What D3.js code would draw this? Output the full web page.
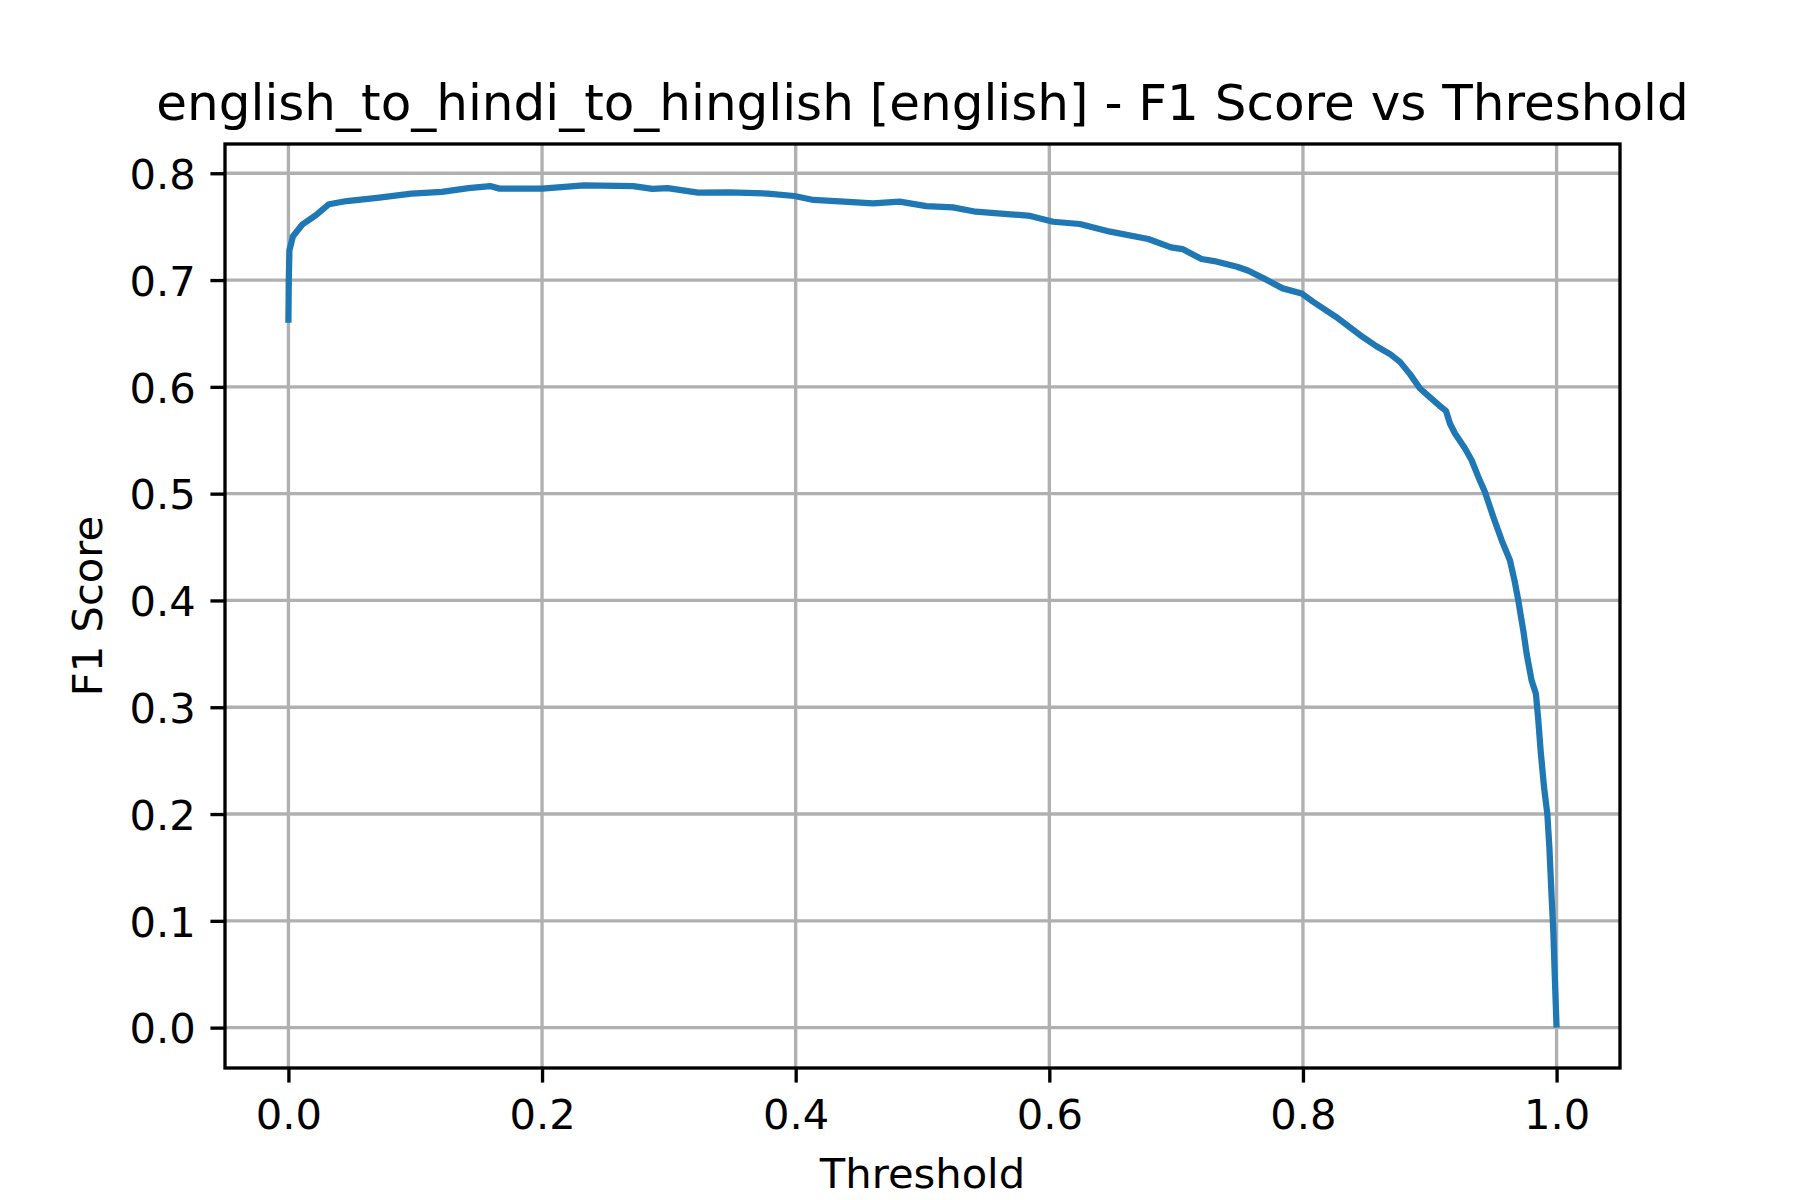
<!DOCTYPE html>
<html>
<head>
<meta charset="utf-8">
<script src="https://cdn.jsdelivr.net/npm/d3@7"></script>
<style>
  html, body { margin: 0; padding: 0; background: #ffffff; }
  svg { display: block; }
  text { font-family: "DejaVu Sans", sans-serif; fill: #000; }
</style>
</head>
<body>
<svg id="chart" width="1800" height="1200"></svg>
<script>
// ---- Data ----
const thresholds = [
  0.0, 0.0003, 0.0008, 0.0036, 0.011, 0.022, 0.032, 0.046, 0.070, 0.097,
  0.121, 0.142, 0.159, 0.1665, 0.200, 0.233, 0.272, 0.287, 0.299, 0.323,
  0.348, 0.378, 0.399, 0.414, 0.438, 0.461, 0.482, 0.503, 0.524, 0.542,
  0.5695, 0.585, 0.603, 0.624, 0.648, 0.678, 0.696, 0.705, 0.720, 0.730,
  0.748, 0.757, 0.769, 0.784, 0.799, 0.808, 0.826, 0.845, 0.858, 0.869,
  0.8765, 0.8844, 0.8923, 0.9002, 0.9081, 0.9128, 0.9159, 0.9199, 0.9278, 0.933,
  0.9383, 0.9435, 0.9501, 0.9567, 0.9632, 0.9668, 0.9698, 0.9737, 0.9764, 0.9803,
  0.9837, 0.9856, 0.9874, 0.9901, 0.9927, 0.9943, 0.9961, 0.9974, 0.9987, 1.0
];
const f1Scores = [
  0.660, 0.700, 0.728, 0.741, 0.752, 0.761, 0.771, 0.774, 0.777, 0.781,
  0.7825, 0.786, 0.788, 0.7856, 0.7856, 0.7887, 0.788, 0.7853, 0.786, 0.7818,
  0.782, 0.781, 0.7787, 0.775, 0.7734, 0.7719, 0.7734, 0.7693, 0.768, 0.764,
  0.7616, 0.760, 0.7546, 0.7525, 0.7453, 0.7384, 0.7306, 0.729, 0.7197, 0.7178,
  0.7125, 0.7087, 0.7016, 0.6922, 0.6875, 0.6797, 0.6656, 0.6485, 0.638, 0.6304,
  0.6234, 0.6119, 0.5985, 0.5901, 0.5819, 0.5775, 0.5657, 0.5563, 0.5423, 0.5313,
  0.5157, 0.5016, 0.4782, 0.4563, 0.4376, 0.4188, 0.400, 0.372, 0.350, 0.325,
  0.3126, 0.2876, 0.2595, 0.2251, 0.200, 0.1688, 0.1219, 0.0907, 0.0438, 0.0
];
const xTicks = [0.0, 0.2, 0.4, 0.6, 0.8, 1.0];
const yTicks = [0.0, 0.1, 0.2, 0.3, 0.4, 0.5, 0.6, 0.7, 0.8];
const titleText = "english_to_hindi_to_hinglish [english] - F1 Score vs Threshold";
const xLabelText = "Threshold";
const yLabelText = "F1 Score";

(function () {
  // ---- Layout ----
  const W = 1800, H = 1200;
  const axL = 225, axR = 1620, axT = 144, axB = 1068;
  const pt = 300 / 72;

  const svg = d3.select("#chart");
  svg.append("rect").attr("width", W).attr("height", H).attr("fill", "#fff");

  const x = d3.scaleLinear().domain([-0.05, 1.05]).range([axL, axR]);
  const y = d3.scaleLinear().domain([-0.0378, 0.8274]).range([axB, axT]);

  const data = thresholds.map((t, i) => ({ t, f: f1Scores[i] }));

  // grid
  const grid = svg.append("g");
  grid.selectAll("line.gx").data(xTicks).join("line").attr("class", "gx")
    .attr("x1", d => x(d)).attr("x2", d => x(d))
    .attr("y1", axT).attr("y2", axB)
    .attr("stroke", "#b0b0b0").attr("stroke-width", 0.8 * pt);
  grid.selectAll("line.gy").data(yTicks).join("line").attr("class", "gy")
    .attr("x1", axL).attr("x2", axR)
    .attr("y1", d => y(d)).attr("y2", d => y(d))
    .attr("stroke", "#b0b0b0").attr("stroke-width", 0.8 * pt);

  // clip
  svg.append("clipPath").attr("id", "clip").append("rect")
    .attr("x", axL).attr("y", axT).attr("width", axR - axL).attr("height", axB - axT);

  // line
  const line = d3.line().x(d => x(d.t)).y(d => y(d.f));
  svg.append("path")
    .datum(data)
    .attr("clip-path", "url(#clip)")
    .attr("d", line)
    .attr("fill", "none")
    .attr("stroke", "#1f77b4")
    .attr("stroke-width", 1.5 * pt)
    .attr("stroke-linejoin", "round")
    .attr("stroke-linecap", "butt");

  // axes
  const tickLen = 3.5 * pt, tickPad = 3.5 * pt;
  const fontTick = 10 * pt;

  const xAxis = d3.axisBottom(x).tickValues(xTicks).tickFormat(d3.format(".1f"))
    .tickSizeInner(tickLen).tickSizeOuter(0).tickPadding(tickPad);
  const gx = svg.append("g").attr("transform", `translate(0,${axB})`).call(xAxis);
  gx.select(".domain").remove();
  gx.selectAll(".tick line").attr("stroke", "#000").attr("stroke-width", 0.8 * pt);
  gx.selectAll(".tick text")
    .attr("font-family", "DejaVu Sans").attr("font-size", fontTick)
    .attr("fill", "#000").attr("dy", null).attr("y", tickLen + tickPad + 0.76 * fontTick);

  const yAxis = d3.axisLeft(y).tickValues(yTicks).tickFormat(d3.format(".1f"))
    .tickSizeInner(tickLen).tickSizeOuter(0).tickPadding(tickPad);
  const gy = svg.append("g").attr("transform", `translate(${axL},0)`).call(yAxis);
  gy.select(".domain").remove();
  gy.selectAll(".tick line").attr("stroke", "#000").attr("stroke-width", 0.8 * pt);
  gy.selectAll(".tick text")
    .attr("font-family", "DejaVu Sans").attr("font-size", fontTick)
    .attr("fill", "#000").attr("dy", null).attr("y", 0.365 * fontTick);

  // spines
  svg.append("rect")
    .attr("x", axL).attr("y", axT).attr("width", axR - axL).attr("height", axB - axT)
    .attr("fill", "none").attr("stroke", "#000").attr("stroke-width", 0.8 * pt)
    .attr("stroke-linejoin", "miter");

  // title
  svg.append("text")
    .attr("x", (axL + axR) / 2).attr("y", 119.5)
    .attr("text-anchor", "middle")
    .attr("font-size", 12 * pt)
    .text(titleText);

  // x label
  svg.append("text")
    .attr("x", (axL + axR) / 2).attr("y", 1188)
    .attr("text-anchor", "middle")
    .attr("font-size", fontTick)
    .text(xLabelText);

  // y label
  svg.append("text")
    .attr("transform", `translate(102,${(axT + axB) / 2}) rotate(-90)`)
    .attr("text-anchor", "middle")
    .attr("font-size", fontTick)
    .text(yLabelText);
})();
</script>
</body>
</html>
